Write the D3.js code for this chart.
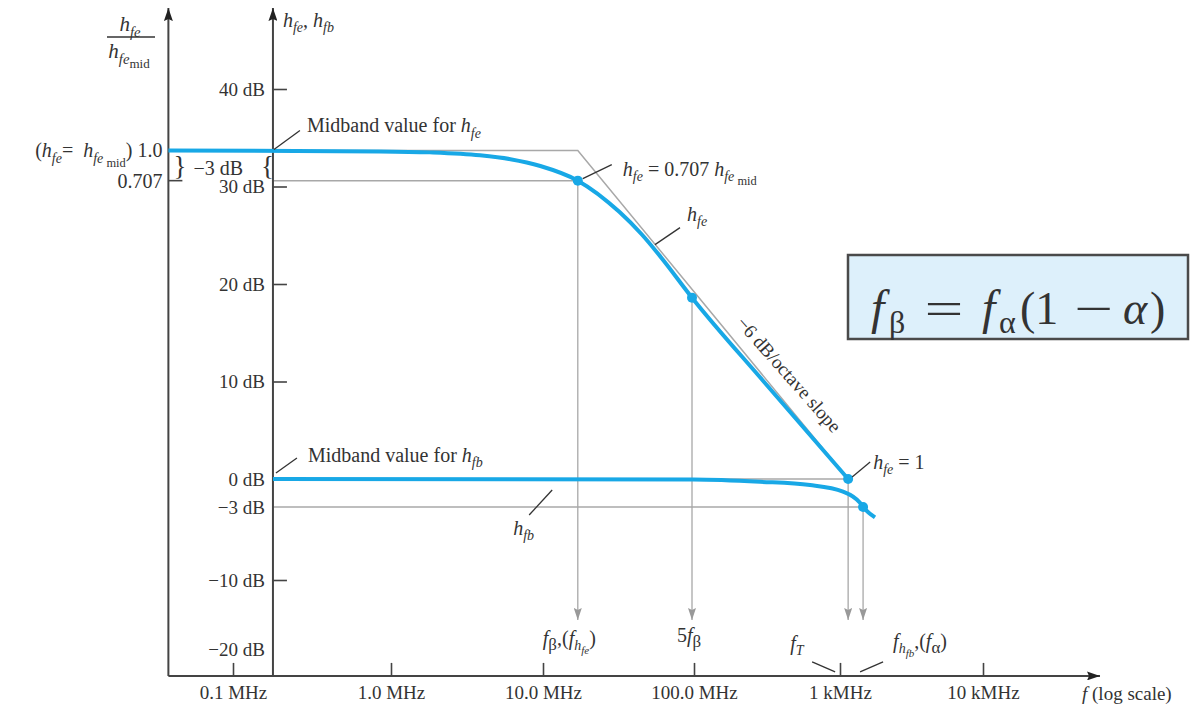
<!DOCTYPE html>
<html lang="en">
<head>
<meta charset="utf-8">
<title>hfe and hfb versus frequency</title>
<script src="https://d3js.org/d3.v7.min.js"></script>
<style>
  html, body { margin: 0; padding: 0; background: #fff; }
  svg { display: block; font-family: "Liberation Serif", "Times New Roman", serif; }
  text { white-space: pre; }
</style>
</head>
<body>
<svg id="chart" width="1191" height="710"></svg>
<script>
// frequency axis (MHz)
const freqTicks = [0.1, 1, 10, 100, 1000, 10000];
const freqLabels = ["0.1 MHz", "1.0 MHz", "10.0 MHz", "100.0 MHz", "1 kMHz", "10 kMHz"];

// dB axis
const dbLabelValues = [40, 30, 20, 10, 0, -3, -10, -20];
const dbLabels = ["40 dB", "30 dB", "20 dB", "10 dB", "0 dB", "\u22123 dB", "\u221210 dB", "\u221220 dB"];
const dbTickValues = [40, 30, 20, 10, -10];

// hfe curve (MHz, dB)
const hfeFreq = [0.039, 0.85, 1.8, 3.85, 6.1, 9.6, 17, 32, 45, 60, 97, 300, 1140];
const hfeDb   = [33.7, 33.6, 33.5, 33.2, 32.8, 32.1, 30.6, 27.4, 25.1, 22.8, 18.6, 10.0, 0];

// hfb curve
const hfbFreq = [0.179, 99, 283, 623, 1050, 1380, 1450, 1757];
const hfbDb   = [0, -0.05, -0.3, -0.65, -1.35, -2.55, -3, -4.0];

// straight-line asymptote of hfe
const asymFreq = [0.179, 17, 1140];
const asymDb   = [33.7, 33.7, 0];

// marked points: f_beta, 5 f_beta, f_T, f_alpha
const markerFreq = [17, 97, 1140, 1450];
const markerDb   = [30.6, 18.6, 0, -3];

const hfeMid = 33.7;
const leftAxisFreq = 0.039, dbAxisFreq = 0.179, endFreq = 65800;
const floorDb = -23.9, topDb = 48.3, arrowDb = -15.8;

const svg = d3.select("#chart");
const blue = "#18a8e6", gray = "#a8a8a8", ink = "#333", axisCol = "#444";

// the original drawing is not evenly spaced, so the scales are piecewise
const x = d3.scaleLog()
  .domain(freqTicks)
  .range([233, 391, 543, 694, 840, 983]);
const y = d3.scaleLinear()
  .domain([-20, -10, -3, 0, 40])
  .range([649, 580, 507, 479, 89]);

const defs = svg.append("defs");
defs.append("marker").attr("id", "arrAxis")
  .attr("viewBox", "0 0 13 9").attr("refX", 13).attr("refY", 4.5)
  .attr("markerWidth", 13).attr("markerHeight", 9)
  .attr("markerUnits", "userSpaceOnUse").attr("orient", "auto")
  .append("path").attr("d", "M0,0 L13,4.5 L0,9 L2,4.5 Z").attr("fill", "#222");
defs.append("marker").attr("id", "arrGray")
  .attr("viewBox", "0 0 12 8").attr("refX", 12).attr("refY", 4)
  .attr("markerWidth", 12).attr("markerHeight", 8)
  .attr("markerUnits", "userSpaceOnUse").attr("orient", "auto")
  .append("path").attr("d", "M0,0 L12,4 L0,8 L2,4 Z").attr("fill", "#999");

// rich text with italic variables and subscripts
const STY = {
  r:   { shift: 0, k: 1,    it: false },
  i:   { shift: 0, k: 1,    it: true },
  s:   { shift: 5, k: 0.7,  it: true },
  sr:  { shift: 5, k: 0.7,  it: false },
  g:   { shift: 5, k: 0.85, it: false },
  ss:  { shift: 9, k: 0.55, it: true },
  ssr: { shift: 9, k: 0.62, it: false }
};
function rich(parent, px, py, parts, size = 20, anchor = "start") {
  const t = parent.append("text")
    .attr("x", px).attr("y", py)
    .attr("text-anchor", anchor)
    .attr("fill", ink)
    .style("font-size", size + "px");
  let cur = 0;
  parts.forEach(([str, kind]) => {
    const s = STY[kind];
    const shift = s.shift * size / 19;
    t.append("tspan")
      .attr("dy", shift - cur)
      .style("font-size", (size * s.k) + "px")
      .style("font-style", s.it ? "italic" : "normal")
      .text(str);
    cur = shift;
  });
  return t;
}
function seg(x1, y1, x2, y2, color, w, marker) {
  const l = svg.append("line")
    .attr("x1", x1).attr("y1", y1).attr("x2", x2).attr("y2", y2)
    .attr("stroke", color).attr("stroke-width", w);
  if (marker) l.attr("marker-end", `url(#${marker})`);
  return l;
}

const line = d3.line().x(d => x(d[0])).y(d => y(d[1]));
const curve = d3.line().x(d => x(d[0])).y(d => y(d[1])).curve(d3.curveMonotoneX);

const xL = x(leftAxisFreq), xD = x(dbAxisFreq), yFloor = y(floorDb);

// gray construction lines
svg.append("path").datum(d3.zip(asymFreq, asymDb))
  .attr("d", line).attr("fill", "none").attr("stroke", gray).attr("stroke-width", 1.5);
const refLines = [[markerFreq[0], markerDb[0]], [markerFreq[2], markerDb[2]], [markerFreq[3], markerDb[3]]];
refLines.forEach(([f, db]) => seg(xD, y(db), x(f), y(db), gray, 1.5));
markerFreq.forEach((f, i) => seg(x(f), y(markerDb[i]), x(f), y(arrowDb), gray, 1.3, "arrGray"));

// axes
seg(xL, yFloor, xL, y(topDb), axisCol, 2, "arrAxis");
seg(xD, yFloor, xD, y(topDb), axisCol, 2, "arrAxis");
seg(xL, yFloor, x(endFreq), yFloor, axisCol, 2, "arrAxis");

const xAxis = svg.append("g")
  .attr("transform", `translate(0,${yFloor})`)
  .call(d3.axisBottom(x).tickValues(freqTicks)
    .tickFormat((d, i) => freqLabels[i]).tickSize(-13).tickPadding(10));
const yAxis = svg.append("g")
  .attr("transform", `translate(${xD},0)`)
  .call(d3.axisLeft(y).tickValues(dbLabelValues)
    .tickFormat((d, i) => dbLabels[i]).tickSize(-14).tickPadding(8));
[xAxis, yAxis].forEach(a => {
  a.select(".domain").remove();
  a.attr("font-family", null).attr("font-size", null);
  a.selectAll("text").attr("fill", ink).style("font-size", "19px");
  a.selectAll("line").attr("stroke", axisCol).attr("stroke-width", 1.6);
});
yAxis.selectAll(".tick").filter(d => !dbTickValues.includes(d)).select("line").remove();

// 0.707 tick on the ratio axis
seg(xL, y(markerDb[0]), xL + 14, y(markerDb[0]), axisCol, 1.6);

// curves
svg.append("path").datum(d3.zip(hfbFreq, hfbDb))
  .attr("d", curve).attr("fill", "none").attr("stroke", blue).attr("stroke-width", 4);
svg.append("path").datum(d3.zip(hfeFreq, hfeDb))
  .attr("d", curve).attr("fill", "none").attr("stroke", blue).attr("stroke-width", 4);
svg.selectAll("circle.pt").data(d3.zip(markerFreq, markerDb)).join("circle")
  .attr("class", "pt")
  .attr("cx", d => x(d[0])).attr("cy", d => y(d[1])).attr("r", 5).attr("fill", blue);

// leader lines
const pB = [x(markerFreq[0]), y(markerDb[0])];
const p5 = [x(markerFreq[1]), y(markerDb[1])];
const pT = [x(markerFreq[2]), y(markerDb[2])];
const pA = [x(markerFreq[3]), y(markerDb[3])];
seg(xD + 1, y(hfeMid) - 1, xD + 27, y(hfeMid) - 20, ink, 1.3);
seg(pB[0] + 5, pB[1] - 2, pB[0] + 34, pB[1] - 16, ink, 1.3);
seg(p5[0] - 37, p5[1] - 53, p5[0] - 12, p5[1] - 70, ink, 1.3);
seg(pT[0] + 4, pT[1] - 2, pT[0] + 22, pT[1] - 17, ink, 1.3);
seg(xD + 3, y(0) - 6, xD + 24, y(0) - 21, ink, 1.3);
seg(x(11.5) - 23, y(0) + 36, x(11.5), y(0) + 11, ink, 1.3);
seg(pT[0] - 36, yFloor - 14, pT[0] - 13, yFloor - 4, ink, 1.3);
seg(pA[0] - 3, yFloor - 4, pA[0] + 20, yFloor - 14, ink, 1.3);

// annotations
rich(svg, xD + 34, y(hfeMid) - 18, [["Midband value for ", "r"], ["h", "i"], ["fe", "s"]]);
rich(svg, pB[0] + 45, pB[1] - 5, [["h", "i"], ["fe", "s"], [" = 0.707 ", "r"], ["h", "i"], ["fe", "s"], [" mid", "ssr"]]);
rich(svg, p5[0] - 5, p5[1] - 77, [["h", "i"], ["fe", "s"]]);
rich(svg, pT[0] + 25, pT[1] - 10, [["h", "i"], ["fe", "s"], [" = 1", "r"]]);
rich(svg, xD + 35, y(0) - 17, [["Midband value for ", "r"], ["h", "i"], ["fb", "s"]]);
rich(svg, x(11.5) - 39, y(0) + 56, [["h", "i"], ["fb", "s"]]);

// slope label, parallel to the asymptote
const slopeCx = (p5[0] + pT[0]) / 2 + 19, slopeCy = (p5[1] + pT[1]) / 2 - 14;
svg.append("text")
  .attr("transform", `translate(${slopeCx},${slopeCy}) rotate(48.5)`)
  .attr("text-anchor", "middle").attr("dy", "0.35em")
  .attr("fill", ink).style("font-size", "19px")
  .text("\u22126 dB/octave slope");

// left ratio axis labels
rich(svg, xL - 6, y(hfeMid) + 7, [["(", "r"], ["h", "i"], ["fe", "s"], ["=  ", "r"], ["h", "i"], ["fe", "s"], [" mid", "ssr"], [")", "r"], [" 1.0", "r"]], 20, "end");
rich(svg, xL - 6, y(markerDb[0]) + 7, [["0.707", "r"]], 20, "end");
svg.append("text").attr("x", xL + 5).attr("y", y(markerDb[0]) - 6)
  .attr("fill", ink).style("font-size", "27px").text("}");
svg.append("text").attr("x", xD - 12).attr("y", y(markerDb[0]) - 6)
  .attr("fill", ink).style("font-size", "27px").text("{");
rich(svg, xL + 25, y(markerDb[0]) - 6, [["\u22123 dB", "r"]]);

// axis titles
rich(svg, 130, 31, [["h", "i"], ["fe", "s"]], 21, "middle");
seg(107, 37, 155, 37, ink, 1.3);
rich(svg, 129, 58, [["h", "i"], ["fe", "s"], ["mid", "ssr"]], 21, "middle");
rich(svg, xD + 10, 27, [["h", "i"], ["fe", "s"], [", ", "r"], ["h", "i"], ["fb", "s"]]);
rich(svg, x(endFreq) - 18, yFloor + 24, [["f", "i"], [" (log scale)", "r"]], 19);

// frequency markers along the bottom
rich(svg, pB[0] - 35, 645, [["f", "i"], ["\u03b2", "g"], [",(", "r"], ["f", "i"], ["h", "s"], ["fe", "ss"], [")", "r"]]);
rich(svg, p5[0] - 15, 642, [["5", "r"], ["f", "i"], ["\u03b2", "g"]]);
rich(svg, pT[0] - 58, 650, [["f", "i"], ["T", "s"]]);
rich(svg, pA[0] + 30, 648, [["f", "i"], ["h", "s"], ["fb", "ss"], [",(", "r"], ["f", "i"], ["\u03b1", "g"], [")", "r"]]);

// formula box
svg.append("rect").attr("x", 848).attr("y", 255).attr("width", 340).attr("height", 84)
  .attr("fill", "#ddf0fb").attr("stroke", "#4a4a4a").attr("stroke-width", 2.5);
const fy = 324;
rich(svg, 871, fy, [["f", "i"]], 48);
rich(svg, 889, fy + 9, [["\u03b2", "r"]], 32);
const eq = svg.append("g").attr("transform", `translate(944,${fy}) scale(1.5,1)`);
rich(eq, 0, 0, [["=", "r"]], 46, "middle");
rich(svg, 982, fy, [["f", "i"]], 48);
rich(svg, 999, fy + 9, [["\u03b1", "r"]], 32);
rich(svg, 1020, fy, [["(1", "r"]], 46);
const mn = svg.append("g").attr("transform", `translate(1094,${fy}) scale(1.5,1)`);
rich(mn, 0, 0, [["\u2212", "r"]], 46, "middle");
rich(svg, 1123, fy, [["\u03b1", "i"]], 46);
rich(svg, 1150, fy, [[")", "r"]], 46);
</script>
</body>
</html>
